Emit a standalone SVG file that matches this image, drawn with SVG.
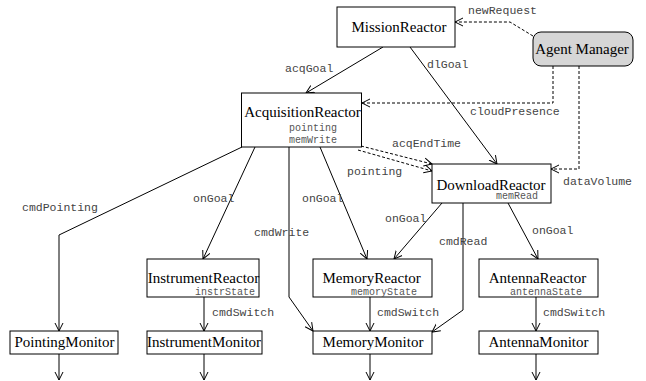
<svg xmlns="http://www.w3.org/2000/svg" width="646" height="381" viewBox="0 0 646 381">
<style>
.box{fill:#fff;stroke:#000;stroke-width:1}
.agent{fill:#d6d6d6;stroke:#000;stroke-width:1}
.title{font-family:"Liberation Serif",serif;font-size:15px;fill:#000;text-anchor:middle}
.small{font-family:"Liberation Mono",monospace;font-size:10px;fill:#555}
.lbl{font-family:"Liberation Mono",monospace;font-size:11.5px;fill:#444}
.ln{fill:none;stroke:#000;stroke-width:1;marker-end:url(#arr)}
.dash{stroke-dasharray:3,2}
</style>
<defs>
<marker id="arr" markerUnits="userSpaceOnUse" markerWidth="10" markerHeight="10" refX="8" refY="4" orient="auto" viewBox="0 0 10 8">
<path d="M0,0 L8,4 L0,8" fill="none" stroke="#000" stroke-width="1"/>
</marker>
</defs>
<rect width="646" height="381" fill="#fff"/>
<g id="connectors">
<path class="ln" d="M383,47 L306,93"/>
<path class="ln" d="M410,47 L497,164"/>
<path class="ln dash" d="M533,36 L510,22 L455,22"/>
<path class="ln dash" d="M553,66 L553,103 L362,103"/>
<path class="ln dash" d="M579,66 L579,169 L551,169"/>
<path class="ln dash" d="M361,146 L432,164"/>
<path class="ln dash" d="M358,150 L432,171"/>
<path class="ln" d="M242,147 L59,235 L59,331"/>
<path class="ln" d="M255,147 L203,259"/>
<path class="ln" d="M289,147 L289,297 L313,331"/>
<path class="ln" d="M320,147 L367,259"/>
<path class="ln" d="M442,203 L394,259"/>
<path class="ln" d="M463,203 L463,310 L432,332"/>
<path class="ln" d="M508,203 L538,259"/>
<path class="ln" d="M204,297 L204,331"/>
<path class="ln" d="M370,297 L370,331"/>
<path class="ln" d="M536,297 L536,331"/>
<path class="ln" d="M59,354 L59,380"/>
<path class="ln" d="M204,354 L204,380"/>
<path class="ln" d="M370,354 L370,380"/>
<path class="ln" d="M536,354 L536,380"/>
<text class="lbl" x="468" y="14">newRequest</text>
<text class="lbl" x="285" y="72">acqGoal</text>
<text class="lbl" x="427" y="68">dlGoal</text>
<text class="lbl" x="470" y="115">cloudPresence</text>
<text class="lbl" x="392" y="147">acqEndTime</text>
<text class="lbl" x="347" y="175">pointing</text>
<text class="lbl" x="563" y="185">dataVolume</text>
<text class="lbl" x="22" y="211">cmdPointing</text>
<text class="lbl" x="193" y="202">onGoal</text>
<text class="lbl" x="254" y="236">cmdWrite</text>
<text class="lbl" x="302" y="202">onGoal</text>
<text class="lbl" x="385" y="222">onGoal</text>
<text class="lbl" x="439" y="245">cmdRead</text>
<text class="lbl" x="532" y="234">onGoal</text>
<text class="lbl" x="212" y="316">cmdSwitch</text>
<text class="lbl" x="377" y="316">cmdSwitch</text>
<text class="lbl" x="543" y="316">cmdSwitch</text>
</g>
<g id="MissionReactor">
<rect class="box" x="337" y="7" width="118" height="40"/>
<text class="title" x="399" y="32">MissionReactor</text>
</g>
<g id="AgentManager">
<rect class="agent" x="533" y="32" width="100" height="34" rx="8"/>
<text class="title" x="582" y="54">Agent Manager</text>
</g>
<g id="AcquisitionReactor">
<rect class="box" x="241.5" y="93" width="120" height="54"/>
<text class="title" x="302.5" y="117">AcquisitionReactor</text>
<text class="small" x="289" y="131">pointing</text>
<text class="small" x="289" y="143">memWrite</text>
</g>
<g id="DownloadReactor">
<rect class="box" x="432" y="164" width="119" height="39"/>
<text class="title" x="491" y="189.5">DownloadReactor</text>
<text class="small" x="496" y="199">memRead</text>
</g>
<g id="InstrumentReactor">
<rect class="box" x="147" y="259" width="112" height="38"/>
<text class="title" x="203.5" y="283">InstrumentReactor</text>
<text class="small" x="195" y="295">instrState</text>
</g>
<g id="MemoryReactor">
<rect class="box" x="313" y="259" width="119" height="38"/>
<text class="title" x="371.7" y="283">MemoryReactor</text>
<text class="small" x="351" y="295">memoryState</text>
</g>
<g id="AntennaReactor">
<rect class="box" x="479" y="259" width="119" height="38"/>
<text class="title" x="537.5" y="283">AntennaReactor</text>
<text class="small" x="510" y="295">antennaState</text>
</g>
<g id="PointingMonitor">
<rect class="box" x="10" y="331" width="108" height="23"/>
<text class="title" x="64.5" y="347">PointingMonitor</text>
</g>
<g id="InstrumentMonitor">
<rect class="box" x="147" y="331" width="115" height="23"/>
<text class="title" x="204" y="347">InstrumentMonitor</text>
</g>
<g id="MemoryMonitor">
<rect class="box" x="313" y="331" width="119" height="23"/>
<text class="title" x="373" y="347">MemoryMonitor</text>
</g>
<g id="AntennaMonitor">
<rect class="box" x="479" y="331" width="119" height="23"/>
<text class="title" x="538.5" y="347">AntennaMonitor</text>
</g>
</svg>
